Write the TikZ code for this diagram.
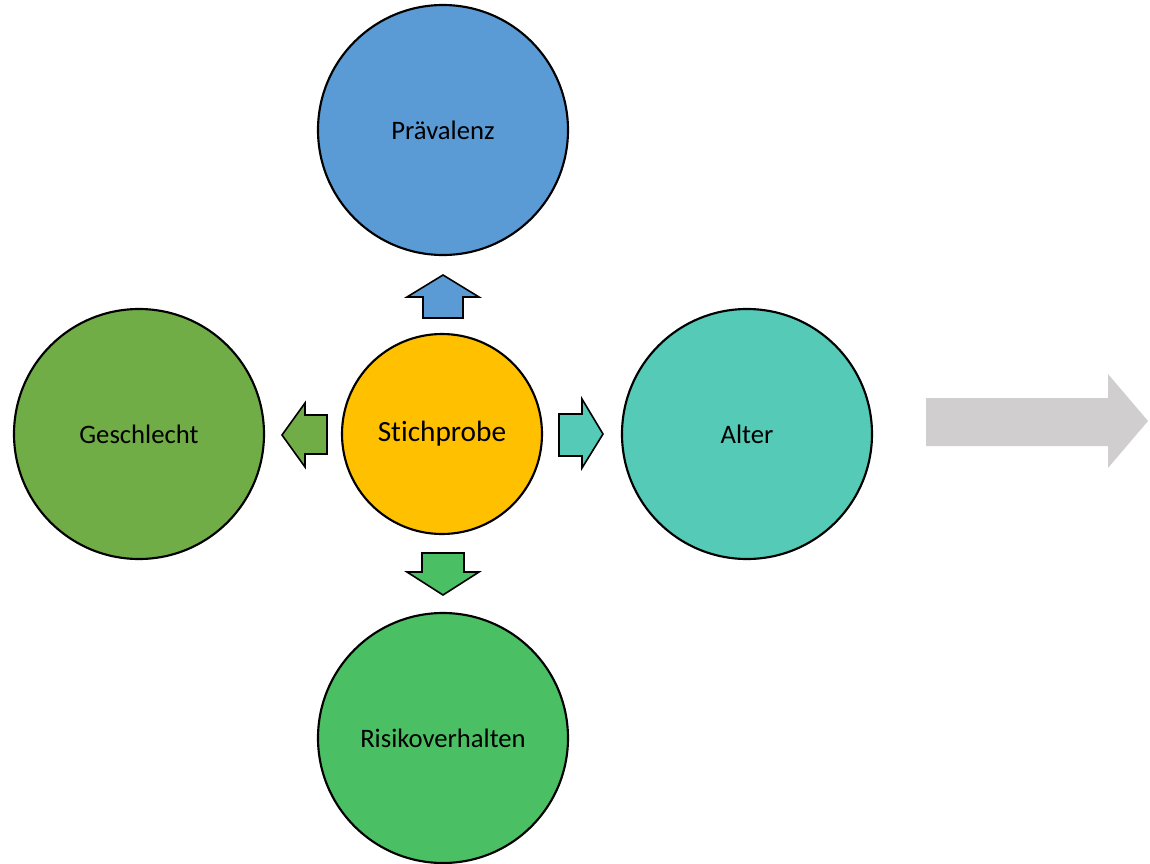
\documentclass[tikz,border=0pt]{standalone}
\usepackage{fontspec}
\setmainfont[Ligatures=NoCommon]{Carlito}
\definecolor{cblue}{HTML}{5B9BD5}
\definecolor{cgreen}{HTML}{70AD47}
\definecolor{cyellow}{HTML}{FFC000}
\definecolor{cteal}{HTML}{54CAB7}
\definecolor{clgreen}{HTML}{4BBF63}
\definecolor{cgray}{HTML}{D0CECE}
\begin{document}
\begin{tikzpicture}[x=0.75pt,y=-0.75pt,
  bigc/.style={circle,draw=black,line width=1.6pt,minimum size=250*0.75pt,inner sep=0pt,font=\fontsize{20}{24}\selectfont},
  blockarrow/.style={draw=black,line width=1.2pt,line join=miter}]
\useasboundingbox (0,0) rectangle (1150,864);
\node[bigc,fill=cblue] (prae) at (443,130) {Prävalenz};
\node[bigc,fill=cgreen] (gesch) at (139,434) {Geschlecht};
\node[bigc,fill=cteal] (alter) at (747,434) {Alter};
\node[bigc,fill=clgreen] (risiko) at (443,738) {Risikoverhalten};
\node[circle,draw=black,line width=1.6pt,minimum size=200*0.75pt,inner sep=0pt,fill=cyellow,font=\fontsize{22}{26}\selectfont] (stich) at (442,434) {Stichprobe};
% up arrow
\draw[blockarrow,fill=cblue] (423,318) -- (423,297) -- (407,297) -- (443,275) -- (479,297) -- (463,297) -- (463,318) -- cycle;
% down arrow
\draw[blockarrow,fill=clgreen] (422,553) -- (464,553) -- (464,572) -- (479,572) -- (443,595) -- (407,572) -- (422,572) -- cycle;
% left arrow
\draw[blockarrow,fill=cgreen] (327,415) -- (305,415) -- (305,403) -- (282,435) -- (305,467) -- (305,454) -- (327,454) -- cycle;
% right arrow
\draw[blockarrow,fill=cteal] (559,414) -- (582,414) -- (582,399) -- (603,434) -- (582,468) -- (582,456) -- (559,456) -- cycle;
% gray arrow
\fill[cgray] (926,398) -- (1108,398) -- (1108,374) -- (1148,421) -- (1108,468) -- (1108,446) -- (926,446) -- cycle;
\end{tikzpicture}
\end{document}
